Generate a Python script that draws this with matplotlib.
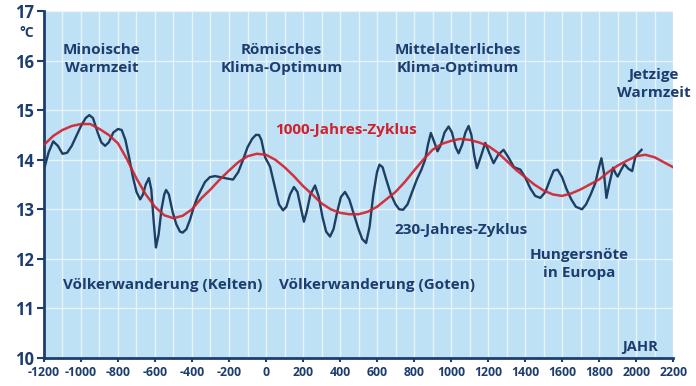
import numpy as np
import matplotlib.pyplot as plt

# 230-Jahres-Zyklus (blaue Kurve)
blue_years = [-1200, -1175, -1150, -1125, -1100, -1075, -1050, -1025, -1000, -975,
              -955, -935, -910, -890, -870, -850, -825, -800, -780, -760,
              -740, -720, -700, -680, -665, -650, -633, -620, -608, -595,
              -580, -565, -550, -540, -525, -505, -485, -465, -450, -430,
              -410, -390, -370, -350, -330, -303, -275, -249, -210, -178,
              -150, -124, -100, -75, -55, -38, -25, -5, 22, 45,
              70, 92, 110, 130, 151, 170, 190, 205, 220, 240,
              265, 285, 305, 325, 346, 365, 385, 405, 427, 450,
              475, 500, 520, 541, 560, 580, 600, 613, 630, 650,
              675, 700, 720, 741, 765, 790, 815, 840, 860, 875,
              891, 910, 927, 945, 965, 987, 1005, 1025, 1041, 1060,
              1078, 1095, 1110, 1125, 1140, 1160, 1185, 1205, 1230, 1255,
              1284, 1310, 1340, 1375, 1400, 1429, 1455, 1483, 1510, 1535,
              1555, 1576, 1600, 1625, 1650, 1675, 1708, 1730, 1755, 1780,
              1800, 1813, 1826, 1840, 1855, 1876, 1890, 1901, 1920, 1937,
              1958, 1979, 1997, 2030]
blue_temp = [13.80, 14.15, 14.37, 14.28, 14.12, 14.14, 14.28, 14.48, 14.68, 14.84,
             14.90, 14.84, 14.55, 14.35, 14.28, 14.35, 14.55, 14.62, 14.60, 14.40,
             14.05, 13.66, 13.35, 13.20, 13.30, 13.50, 13.63, 13.40, 12.80, 12.23,
             12.50, 13.00, 13.30, 13.39, 13.30, 12.95, 12.70, 12.55, 12.53, 12.60,
             12.80, 13.05, 13.25, 13.40, 13.55, 13.65, 13.67, 13.65, 13.62, 13.60,
             13.75, 14.00, 14.25, 14.42, 14.50, 14.50, 14.40, 14.05, 13.86, 13.50,
             13.10, 12.98, 13.05, 13.30, 13.45, 13.35, 13.00, 12.75, 12.95, 13.30,
             13.48, 13.25, 12.85, 12.55, 12.45, 12.60, 12.95, 13.25, 13.35, 13.20,
             12.90, 12.60, 12.40, 12.32, 12.65, 13.30, 13.75, 13.90, 13.85, 13.60,
             13.30, 13.10, 13.00, 12.99, 13.10, 13.35, 13.60, 13.80, 14.00, 14.30,
             14.54, 14.35, 14.17, 14.30, 14.55, 14.67, 14.55, 14.25, 14.13, 14.30,
             14.55, 14.68, 14.50, 14.10, 13.83, 14.05, 14.34, 14.15, 13.93, 14.10,
             14.20, 14.05, 13.85, 13.80, 13.65, 13.42, 13.27, 13.23, 13.35, 13.60,
             13.78, 13.80, 13.65, 13.40, 13.20, 13.05, 13.00, 13.10, 13.30, 13.53,
             13.85, 14.03, 13.75, 13.23, 13.50, 13.84, 13.72, 13.66, 13.80, 13.91,
             13.82, 13.77, 14.07, 14.20]

# 1000-Jahres-Zyklus (rote Kurve)
red_years = list(range(-1200, 2201, 50))
red_temp = [14.30, 14.48, 14.60, 14.68, 14.72, 14.72, 14.62, 14.50, 14.33, 14.00,
            13.62, 13.30, 13.05, 12.88, 12.82, 12.87, 13.00, 13.22, 13.40, 13.60,
            13.78, 13.95, 14.07, 14.12, 14.10, 14.00, 13.85, 13.67, 13.47, 13.30,
            13.12, 13.00, 12.93, 12.90, 12.90, 12.95, 13.05, 13.20, 13.35, 13.55,
            13.78, 14.00, 14.20, 14.32, 14.38, 14.42, 14.40, 14.35, 14.28, 14.15,
            13.98, 13.80, 13.65, 13.50, 13.38, 13.30, 13.27, 13.32, 13.40, 13.50,
            13.60, 13.75, 13.88, 13.98, 14.07, 14.10, 14.05, 13.95, 13.85]

x_ticks = list(range(-1200, 2201, 200))
y_ticks = list(range(10, 18))

navy = '#1c3d6e'
bg = '#bfe1f6'
plt.rcParams['font.family'] = ['Open Sans', 'DejaVu Sans']
plt.rcParams['font.weight'] = 'bold'
plt.rcParams['axes.unicode_minus'] = False

fig = plt.figure(figsize=(6.96, 3.86), dpi=100)
ax = fig.add_axes([0.0632, 0.0725, 0.9038, 0.899])
ax.set_facecolor(bg)

for v in range(-1200, 2201, 100):
    ax.axvline(v, color='#e8f4fc', lw=1.0, zorder=1)
for h in y_ticks:
    ax.axhline(h, color='#e8f4fc', lw=1.0, zorder=1)

ax.plot(blue_years, blue_temp, color='#1d3f63', lw=1.7, zorder=3,
        solid_joinstyle='round')
ax.plot(red_years, red_temp, color='#d0202c', lw=1.8, zorder=4, alpha=0.9)

ax.set_xlim(-1200, 2200)
ax.set_ylim(10, 17)
ax.set_xticks(x_ticks)
ax.set_yticks(y_ticks)
ax.tick_params(axis='x', colors=navy, labelsize=8.8, length=3, width=1.5, pad=3)
ax.tick_params(axis='y', colors=navy, labelsize=12, length=5, width=1.5, pad=2)
for lab in ax.get_xticklabels() + ax.get_yticklabels():
    lab.set_fontweight('bold')
for s in ['top', 'right']:
    ax.spines[s].set_visible(False)
for s in ['left', 'bottom']:
    ax.spines[s].set_color(navy)
    ax.spines[s].set_linewidth(2)

tkw = dict(color=navy, fontsize=11, fontweight='bold', ha='center', va='center',
           linespacing=1.35, zorder=5)
ax.text(-887, 16.04, 'Minoische\nWarmzeit', **tkw)
ax.text(85, 16.04, 'Römisches\nKlima-Optimum', **tkw)
ax.text(1036, 16.04, 'Mittelalterliches\nKlima-Optimum', **tkw)
ax.text(2094, 15.53, 'Jetzige\nWarmzeit', **tkw)
ax.text(1694, 11.9, 'Hungersnöte\nin Europa', **tkw)
ax.text(-558, 11.48, 'Völkerwanderung (Kelten)', **tkw)
ax.text(600, 11.48, 'Völkerwanderung (Goten)', **tkw)
ax.text(1053, 12.59, '230-Jahres-Zyklus', **tkw)
tkw['color'] = '#d0202c'
ax.text(430, 14.6, '1000-Jahres-Zyklus', **tkw)
ax.text(2021, 10.08, 'JAHR', color=navy, fontsize=10.5, fontweight='bold',
        ha='center', va='bottom', zorder=5)
ax.text(-0.027, 16.56, '°C', transform=ax.get_yaxis_transform(), color=navy,
        fontsize=10, fontweight='bold', ha='center', va='center')

fig.savefig('out.png', dpi=100)
